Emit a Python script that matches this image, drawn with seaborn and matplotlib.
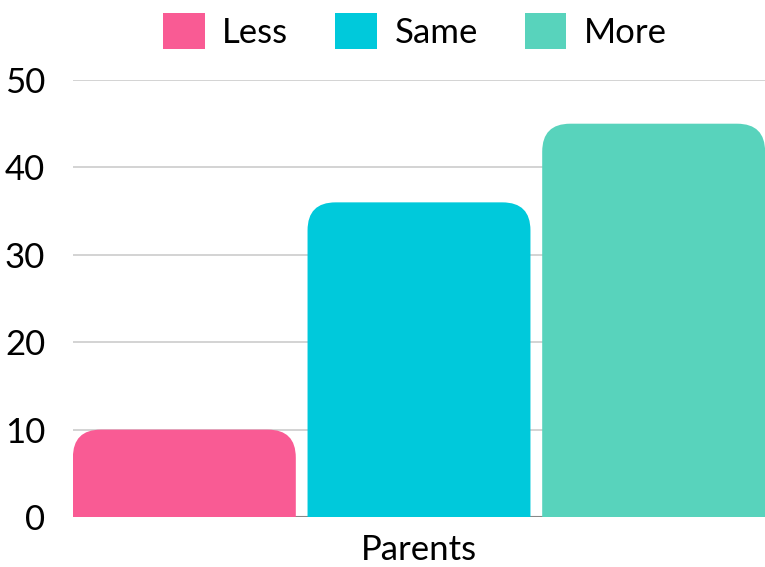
import matplotlib
matplotlib.use("Agg")
import matplotlib.pyplot as plt
from matplotlib.patches import FancyBboxPatch, Patch
import pandas as pd
import seaborn as sns

groups = ["Parents"]
responses = ["Less", "Same", "More"]
values = [10, 36, 45]
colors = ["#F95B94", "#00C9DB", "#58D3BC"]
y_ticks = [0, 10, 20, 30, 40, 50]

df = pd.DataFrame({
    "group": groups * len(responses),
    "response": responses,
    "value": values,
})

sns.set_theme(style="white")
plt.rcParams["font.family"] = ["Lato", "DejaVu Sans"]

W, H = 765, 567
fig = plt.figure(figsize=(W / 100, H / 100), dpi=100)
ax_l, ax_r, ax_b, ax_t = 73, 765, 517, 80
ax = fig.add_axes([ax_l / W, (H - ax_b) / H, (ax_r - ax_l) / W, (ax_b - ax_t) / H])

sns.barplot(data=df, x="group", y="value", hue="response", hue_order=responses,
            palette=colors, saturation=1, width=1.0, gap=0.05, legend=False, ax=ax)

xlim = (-0.4915, 0.4915)
ax.set_xlim(*xlim)
ax.set_ylim(0, 50)

# rounded top corners: swap bar rectangles for rounded boxes pushed below zero
px_x = (xlim[1] - xlim[0]) / (ax_r - ax_l)
px_y = 50 / (ax_b - ax_t)
r_px = 28
rx, ry = r_px * px_x, r_px * px_y
for p in list(ax.patches):
    x0, w, h = p.get_x(), p.get_width(), p.get_height()
    fc = p.get_facecolor()
    p.remove()
    ax.add_patch(FancyBboxPatch((x0, -ry), w, h + ry,
                                boxstyle=f"round,pad=0,rounding_size={rx}",
                                mutation_aspect=ry / rx, facecolor=fc,
                                edgecolor="none", zorder=2))

ax.set_axisbelow(True)
ax.yaxis.grid(True, color="#cccccc", linewidth=1.2)
ax.xaxis.grid(False)
ax.axhline(0, color="#888888", linewidth=1.5, zorder=1)
for s in ax.spines.values():
    s.set_visible(False)

ax.set_yticks(y_ticks)
ax.set_yticklabels([str(t) for t in y_ticks])
ax.tick_params(axis="y", length=0, pad=20, labelsize=25, labelcolor="black")
ax.tick_params(axis="x", length=0, pad=12, labelsize=25, labelcolor="black")
ax.set_xlabel("")
ax.set_ylabel("")

handles = [Patch(facecolor=c, edgecolor="none", label=r) for r, c in zip(responses, colors)]
fig.legend(handles=handles, loc="center", bbox_to_anchor=(415 / W, 1 - 31 / H),
           ncol=3, frameon=False, fontsize=25, handlelength=1.2, handleheight=1.2,
           handletextpad=0.5, columnspacing=1.35, labelcolor="black")

fig.savefig("out.png", dpi=100)
